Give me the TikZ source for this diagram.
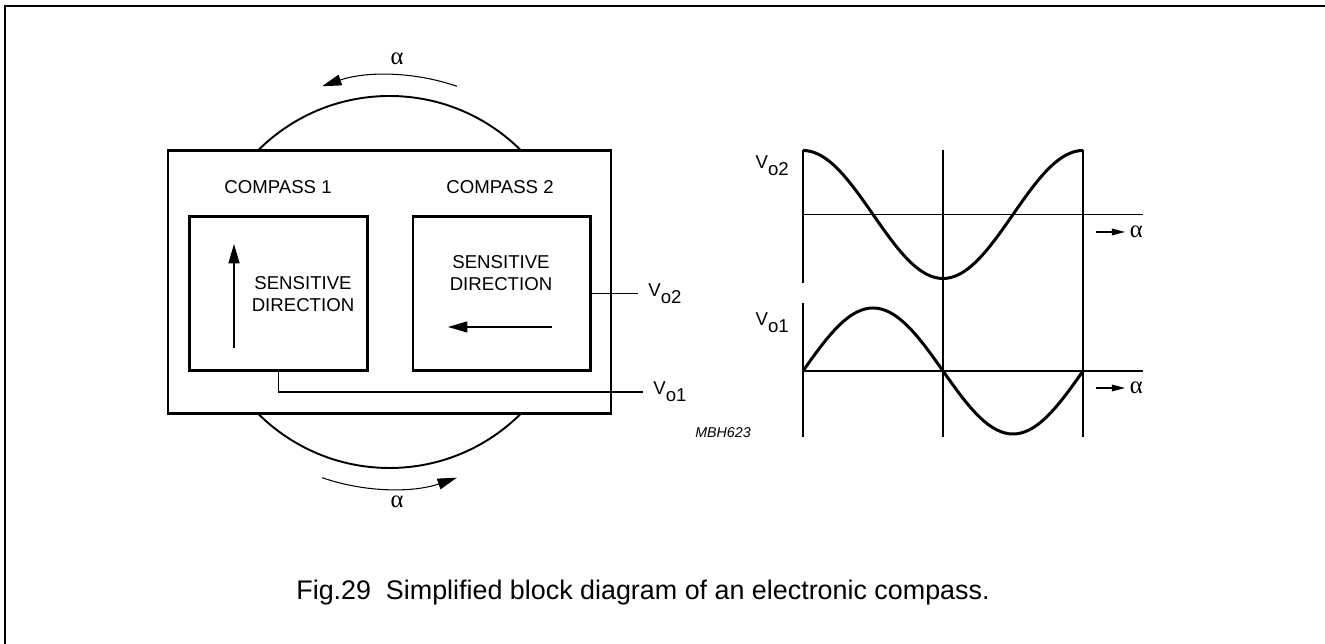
\documentclass[tikz,border=0pt]{standalone}
\usepackage{fontspec}
\setmainfont{Liberation Sans}
\newfontfamily\greekfont{Liberation Serif}
\usetikzlibrary{arrows.meta, positioning}
\newcommand{\outsub}[1]{\raisebox{-0.7ex}{#1}}

\begin{document}
\begin{tikzpicture}[x=0.02cm, y=0.02cm,
    pageframe/.style={line width=1.1pt},
    pkgbox/.style={draw, line width=1.6pt, fill=white, minimum width=8.86cm, minimum height=5.26cm},
    cmpbox/.style={draw, line width=1.6pt, minimum width=3.55cm, minimum height=3.08cm},
    txt/.style={font=\fontsize{10.6}{12.6}\selectfont, align=center},
    angl/.style={font=\greekfont\fontsize{14}{16}\selectfont},
    rim/.style={line width=1.1pt},
    wire/.style={line width=0.6pt},
    dirarrow/.style={line width=0.6pt, -{Triangle[length=11pt, width=6.3pt]}},
    wave/.style={line width=1.7pt},
    axarrow/.style={line width=0.6pt, -{Triangle[length=7.5pt, width=3.8pt]}}
]
\useasboundingbox (0,0) rectangle (1325,644);
\draw[pageframe] (1330,638) -- (5,638) -- (5,-5);

% housing, turning round
\draw[rim] (389.5,362) circle[radius=186];
\node[pkgbox] (pkg) at (389.5,362) {};
\draw[dirarrow] ([shift={(71:207)}]pkg.center) arc[start angle=71, end angle=109, radius=207];
\draw[dirarrow] ([shift={(251:207)}]pkg.center) arc[start angle=251, end angle=289, radius=207];
\node[angl] (rot1) at (397,585) {α};
\node[angl] (rot2) at (397,142) {α};

% the two sensors
\node[txt] (lbl1) at (278,457) {COMPASS 1};
\node[txt] (lbl2) at (500,457) {COMPASS 2};
\node[cmpbox] (cmp1) at (278.5,350.5) {};
\node[cmpbox, right=0.86cm of cmp1] (cmp2) {};
\node[txt] (sens1) at (303,350) {SENSITIVE\\DIRECTION};
\node[txt] (sens2) at (501,370.5) {SENSITIVE\\DIRECTION};
\draw[dirarrow] (234,296) -- (234,400);
\draw[dirarrow] (552,317) -- (448,317);

% outputs
\node[txt, anchor=west, inner xsep=5.7pt] (vo2) at (638,350.5) {V\outsub{o2}};
\node[txt, anchor=west, inner xsep=5.7pt] (vo1) at (643,252) {V\outsub{o1}};
\draw[wire] (cmp2.east) -- (vo2.west);
\draw[wire] (cmp1.south) |- (vo1.west);
\node[font=\itshape\fontsize{8.1}{9.7}\selectfont] (code) at (723,211) {MBH623};

% waveforms
\draw[wire] (803,494) -- (803,361);
\draw[wire] (803,341) -- (803,207);
\draw[wire] (943,494) -- (943,207);
\draw[wire] (1083,494) -- (1083,207);
\draw[wire] (803,429.5) -- (1143,429.5);
\draw[wire] (803,273) -- (1143,273);
\draw[wave] plot[domain=0:360, samples=73, smooth] ({803+0.7778*\x},{429.5+64*cos(\x)});
\draw[wave] plot[domain=0:360, samples=73, smooth] ({803+0.7778*\x},{273+63*sin(\x)});
\node[txt, anchor=east] (vo2g) at (795,478) {V\outsub{o2}};
\node[txt, anchor=east] (vo1g) at (795,321) {V\outsub{o1}};
\node[angl, anchor=west, inner xsep=2.5pt] (ax1) at (1125,412) {α};
\node[angl, anchor=west, inner xsep=2.5pt] (ax2) at (1125,256) {α};
\draw[axarrow] ([xshift=-0.58cm]ax1.west) -- (ax1.west);
\draw[axarrow] ([xshift=-0.58cm]ax2.west) -- (ax2.west);

\node[font=\fontsize{15.3}{18}\selectfont] (cap) at (643,51) {Fig.29\ \ Simplified block diagram of an electronic compass.};
\end{tikzpicture}
\end{document}
